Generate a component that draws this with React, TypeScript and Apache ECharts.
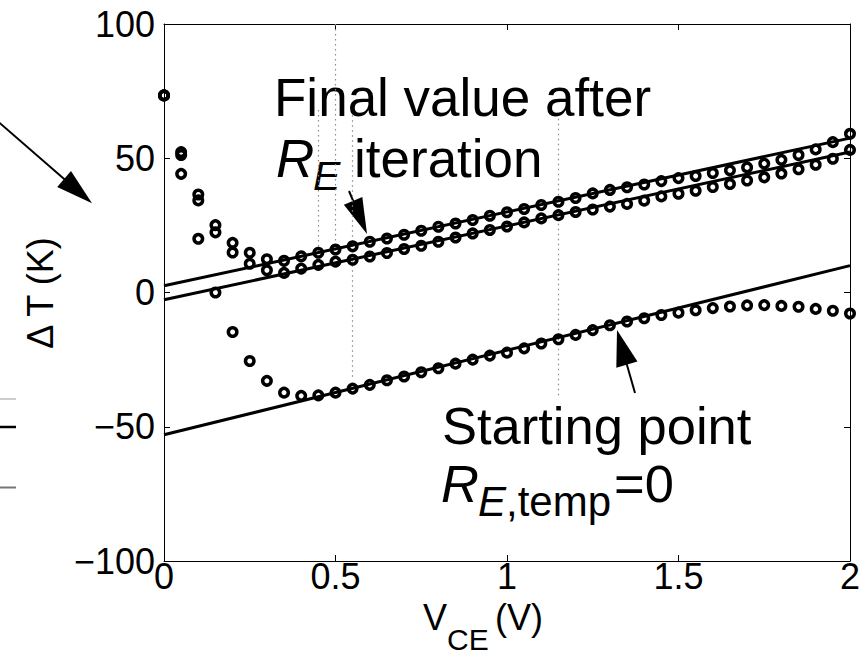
import React, { useEffect, useRef } from 'react';
import * as echarts from 'echarts';

// V_CE sample points (V)
const vce = [
  0, 0.05, 0.1, 0.15, 0.2, 0.25, 0.3, 0.35, 0.4, 0.45,
  0.5, 0.55, 0.6, 0.65, 0.7, 0.75, 0.8, 0.85, 0.9, 0.95,
  1.0, 1.05, 1.1, 1.15, 1.2, 1.25, 1.3, 1.35, 1.4, 1.45,
  1.5, 1.55, 1.6, 1.65, 1.7, 1.75, 1.8, 1.85, 1.9, 1.95, 2.0,
];

// Delta T (K) — final value after R_E iteration (upper set)
const finalUpper = [
  73.4, 52.3, 36.5, 25.1, 18.5, 14.8, 12.4, 11.8, 13.5, 14.8,
  16.0, 17.2, 18.9, 20.1, 21.5, 23.0, 24.5, 25.7, 27.0, 28.6,
  29.9, 31.1, 32.6, 33.8, 35.2, 36.9, 38.2, 39.2, 40.2, 41.5,
  42.6, 43.4, 44.5, 45.5, 46.6, 48.0, 49.4, 51.2, 53.3, 56.0, 59.1,
];

// Delta T (K) — final value after R_E iteration (lower set)
const finalLower = [
  73.4, 51.2, 34.3, 22.4, 14.9, 10.7, 8.3, 7.3, 8.9, 10.3,
  11.5, 12.2, 13.4, 14.7, 16.2, 17.4, 18.9, 20.5, 22.0, 23.3,
  24.6, 26.1, 27.6, 28.8, 30.0, 30.9, 32.0, 33.0, 34.2, 35.8,
  36.8, 37.9, 39.3, 40.4, 41.7, 42.9, 44.3, 45.9, 47.6, 49.8, 53.1,
];

// Delta T (K) — starting point R_E,temp = 0
const startPoint = [
  73.4, 44.2, 20.0, 0.0, -14.7, -25.5, -32.9, -37.3, -38.5, -38.3,
  -37.3, -35.8, -34.4, -32.7, -31.3, -29.7, -28.2, -26.5, -25.0, -23.5,
  -22.4, -20.8, -19.0, -17.4, -15.8, -14.0, -12.2, -10.8, -9.6, -8.4,
  -7.5, -6.6, -5.8, -5.2, -4.8, -4.7, -5.0, -5.3, -6.1, -6.8, -7.8,
];

// straight fit lines: [x, y] end points
const fitUpper = [[0, 2.5], [2, 57.5]];
const fitLower = [[0, -2.7], [2, 52.3]];
const fitStart = [[0, -53], [2, 10]];

// dotted guide lines (x, top, bottom) in data units
const guideX = [0.45, 0.5, 0.55, 1.15];
const guideTop = [68, 100, 66, 64.7];
const guideBottom = [14, 15, -32, -38.6];

const FONT = '"Liberation Sans", Arial, Helvetica, sans-serif';

function arrow(tail: number[], tip: number[], headLen: number, headW: number, lw: number) {
  const dx = tip[0] - tail[0];
  const dy = tip[1] - tail[1];
  const L = Math.hypot(dx, dy);
  const ux = dx / L;
  const uy = dy / L;
  const bx = tip[0] - ux * headLen;
  const by = tip[1] - uy * headLen;
  const px = (-uy * headW) / 2;
  const py = (ux * headW) / 2;
  return [
    { type: 'line', shape: { x1: tail[0], y1: tail[1], x2: bx + ux * 2, y2: by + uy * 2 }, style: { stroke: '#000', lineWidth: lw } },
    { type: 'polygon', shape: { points: [[tip[0], tip[1]], [bx + px, by + py], [bx - px, by - py]] }, style: { fill: '#000' } },
  ];
}

function txt(text: string, x: number, y: number, size: number, italic = false, extra: any = {}) {
  return {
    type: 'text',
    x,
    y,
    ...extra,
    style: {
      text,
      fontSize: size,
      fontFamily: FONT,
      fontStyle: italic ? 'italic' : 'normal',
      fill: '#000',
      align: extra.align || 'left',
      verticalAlign: 'middle',
    },
  };
}

export default function App() {
  const ref = useRef<HTMLDivElement>(null);
  useEffect(() => {
    const chart = echarts.init(ref.current as HTMLDivElement, null, { renderer: 'svg' });
    const axisCommon = {
      type: 'value' as const,
      axisLine: { show: true, onZero: false, lineStyle: { color: '#000', width: 1 } },
      axisTick: { show: true, inside: true, length: 6, lineStyle: { color: '#000', width: 1 } },
      splitLine: { show: false },
    };
    const toPts = (ys: number[]) => vce.map((x, i) => [x, ys[i]]);
    const scatterStyle = {
      type: 'scatter' as const,
      symbol: 'circle',
      symbolSize: 8.5,
      itemStyle: { color: 'rgba(255,255,255,0)', borderColor: '#000', borderWidth: 3.5, opacity: 1 },
      z: 3,
    };
    const lineStyle = {
      type: 'line' as const,
      showSymbol: false,
      lineStyle: { color: '#000', width: 3 },
      z: 2,
    };
    const option: any = {
      animation: false,
      backgroundColor: '#fff',
      grid: { left: 164, top: 24, width: 686, height: 537 },
      xAxis: [
        {
          ...axisCommon,
          position: 'bottom',
          min: 0,
          max: 2,
          interval: 0.5,
          axisLabel: { color: '#000', fontSize: 36, fontFamily: FONT, margin: -3 },
        },
        {
          ...axisCommon,
          position: 'top',
          min: 0,
          max: 2,
          interval: 0.5,
          axisLabel: { show: false },
        },
      ],
      yAxis: [
        {
          ...axisCommon,
          position: 'left',
          min: -100,
          max: 100,
          interval: 50,
          axisLabel: {
            color: '#000',
            fontSize: 36,
            fontFamily: FONT,
            margin: 9,
            formatter: (v: number) => String(v).replace('-', '\u2212'),
          },
        },
        {
          ...axisCommon,
          position: 'right',
          min: -100,
          max: 100,
          interval: 50,
          axisLabel: { show: false },
        },
      ],
      series: [
        {
          ...lineStyle,
          data: fitUpper,
          markLine: {
            silent: true,
            symbol: ['none', 'none'],
            label: { show: false },
            lineStyle: { type: [1.5, 3.5], color: '#8a8a8a', width: 1.2 },
            data: guideX.map((x, i) => [{ coord: [x, guideTop[i]] }, { coord: [x, guideBottom[i]] }]),
            z: 1,
          },
        },
        { ...lineStyle, data: fitLower },
        { ...lineStyle, data: fitStart },
        { ...scatterStyle, data: toPts(finalUpper) },
        { ...scatterStyle, data: toPts(finalLower) },
        { ...scatterStyle, data: toPts(startPoint) },
      ],
      graphic: [
        // annotation: final value
        txt('Final value after', 274, 97.7, 53),
        txt('R', 276, 158.7, 53, true),
        txt('E', 313, 176.1, 41, true),
        txt('iteration', 354, 158.7, 53),
        ...arrow([349, 191], [367, 234], 36, 20, 2),
        // annotation: starting point
        txt('Starting point', 442, 425.3, 52.5),
        txt('R', 441, 483.7, 52.5, true),
        txt('E', 478, 501, 42, true),
        txt(',temp', 506, 501, 42),
        txt('=0', 614, 483.7, 52.5),
        ...arrow([635, 393], [617, 330], 36, 22, 2),
        // arrow from neighbouring panel
        ...arrow([-6, 118], [92, 203.3], 37, 21, 2),
        // fragments of neighbouring panel
        { type: 'line', shape: { x1: 0, y1: 399, x2: 16, y2: 399 }, style: { stroke: '#bdbdbd', lineWidth: 1.5 } },
        { type: 'line', shape: { x1: 0, y1: 427, x2: 16, y2: 427 }, style: { stroke: '#000', lineWidth: 2.5 } },
        { type: 'line', shape: { x1: 0, y1: 487.5, x2: 16, y2: 487.5 }, style: { stroke: '#777', lineWidth: 2 } },
        // axis titles
        txt('V', 423, 617.5, 36),
        txt('CE', 447, 639.6, 30),
        txt('(V)', 495, 617.5, 36),
        txt('\u0394 T (K)', 40, 293, 36, false, { rotation: Math.PI / 2, align: 'center' }),
      ],
    };
    chart.setOption(option);
    return () => chart.dispose();
  }, []);
  return (
    <div
      ref={ref}
      style={{ position: 'fixed', left: 0, top: 0, width: 863, height: 657, background: '#fff' }}
    />
  );
}
